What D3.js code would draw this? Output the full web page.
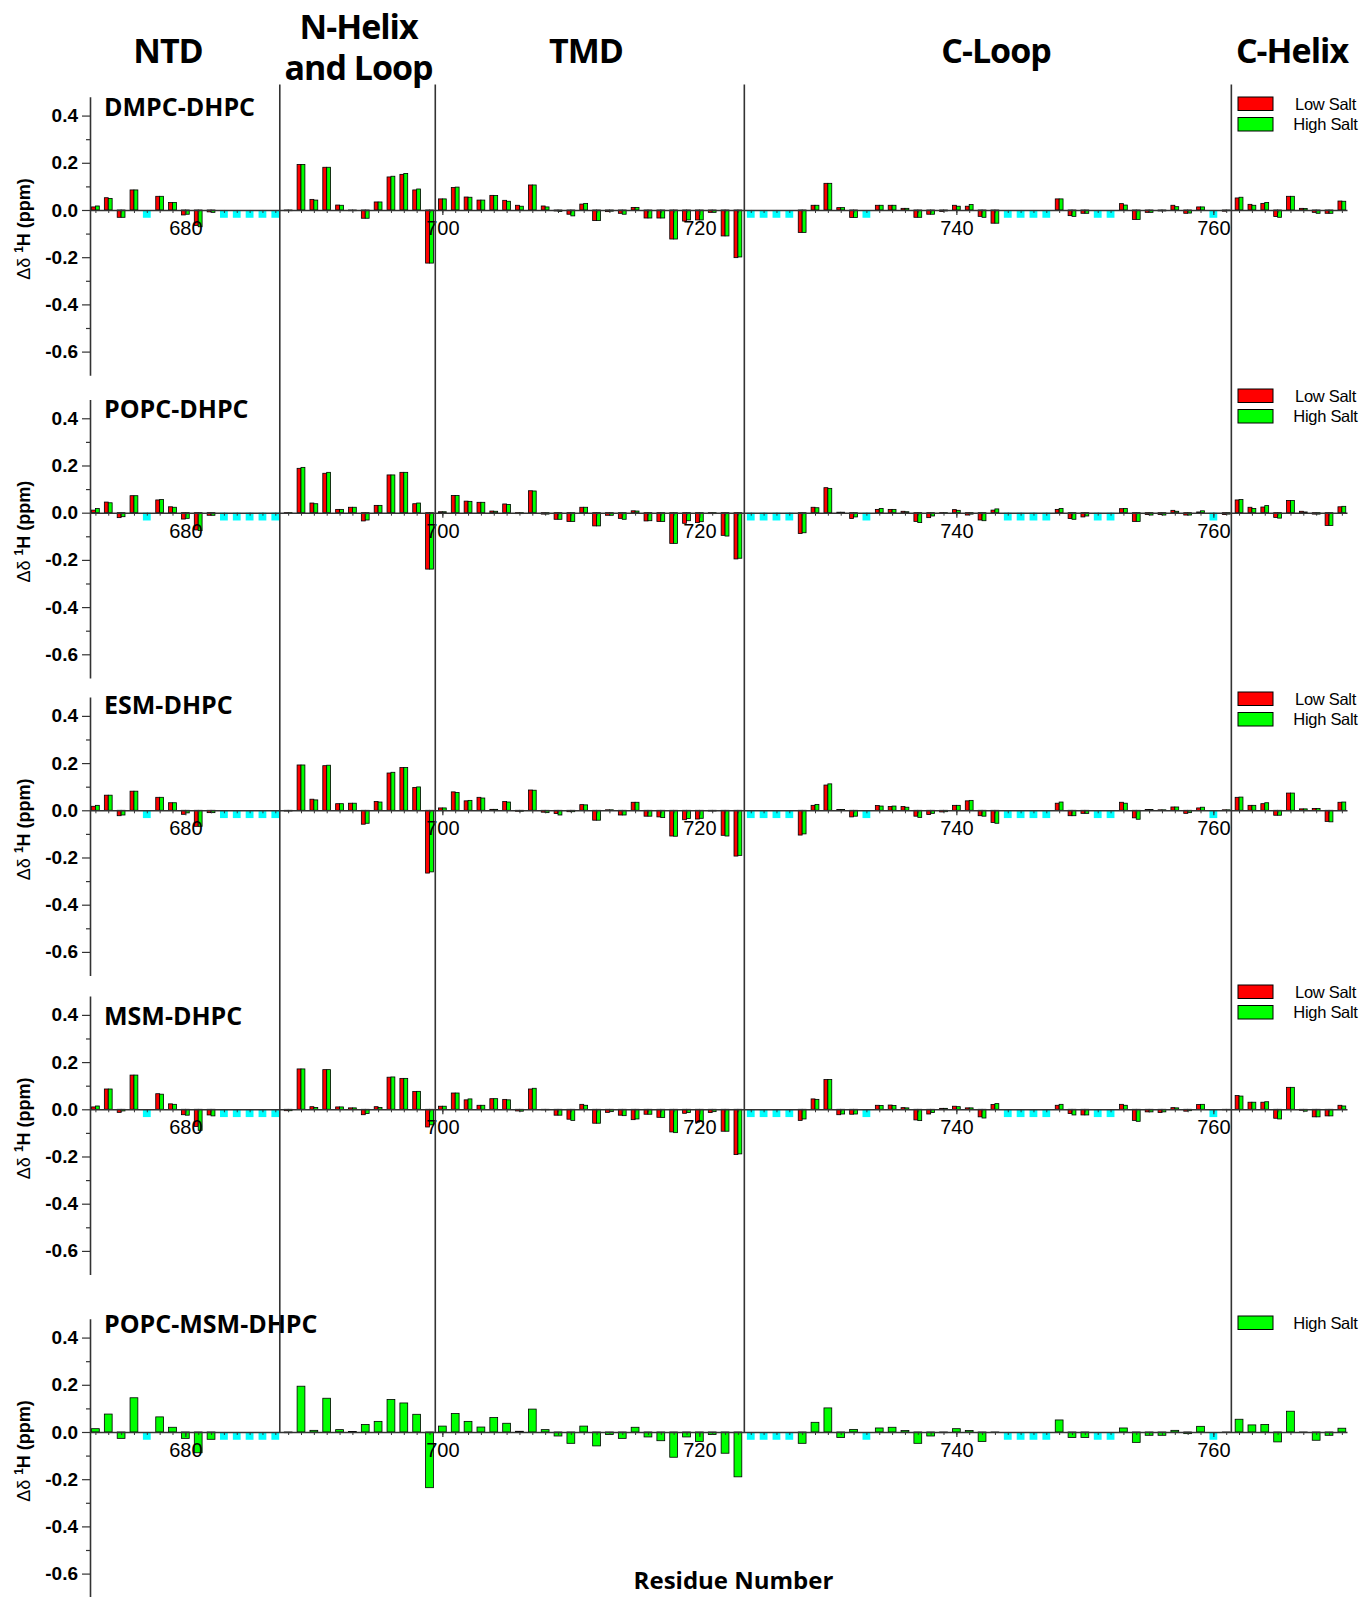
<!DOCTYPE html>
<html>
<head>
<meta charset="utf-8">
<script src="https://cdn.jsdelivr.net/npm/d3@7"></script>
<style>
body { margin: 0; background: #fff; }
svg { display: block; background: #fff; }
</style>
</head>
<body>
<svg></svg>
<script>
// residues 673..770, null = not assigned (drawn as cyan marks)
let residues = d3.range(673, 771);
let unassigned = [677, 683, 684, 685, 686, 687, 724, 725, 726, 727, 733, 744, 745, 746, 747, 751, 752, 760];
let xLabelTicks = [680, 700, 720, 740, 760];
let yMajorTicks = [-0.6, -0.4, -0.2, 0, 0.2, 0.4];
let yMinorTicks = [-0.5, -0.3, -0.1, 0.1, 0.3];
let regionNames = ['NTD', 'N-Helix|and Loop', 'TMD', 'C-Loop', 'C-Helix'];
let regionBounds = [687.35, 699.45, 723.5, 761.4];
let seriesNames = ['Low Salt', 'High Salt'];

let dmpcLow = [
  0.013, 0.052, -0.031, 0.085, null, 0.058, 0.032,
  -0.021, -0.066, -0.008, null, null, null, null, null, -0.003, 0.193,
  0.045, 0.181, 0.021, -0.003, -0.035, 0.034, 0.14, 0.151, 0.085, -0.225,
  0.047, 0.095, 0.055, 0.042, 0.062, 0.041, 0.02, 0.106, 0.017, -0.004,
  -0.018, 0.025, -0.045, -0.007, -0.014, 0.011, -0.034, -0.034, -0.123, -0.047,
  -0.042, -0.01, -0.11, -0.202, null, null, null, null, -0.095, 0.02,
  0.113, 0.01, -0.032, null, 0.02, 0.02, 0.007, -0.031, -0.018, -0.006,
  0.02, 0.016, -0.027, -0.056, null, null, null, null, 0.047, -0.024,
  -0.014, null, null, 0.027, -0.04, -0.01, -0.004, 0.02, -0.014, 0.013,
  null, -0.005, 0.051, 0.024, 0.028, -0.028, 0.058, 0.007, -0.01, -0.014,
  0.038
];
let dmpcHigh = [
  0.017, 0.049, -0.031, 0.085, null, 0.058, 0.032,
  -0.018, -0.071, -0.01, null, null, null, null, null, -0.003, 0.193,
  0.042, 0.181, 0.02, -0.003, -0.035, 0.034, 0.143, 0.155, 0.089, -0.225,
  0.047, 0.097, 0.054, 0.042, 0.061, 0.037, 0.016, 0.106, 0.013, -0.006,
  -0.025, 0.028, -0.045, -0.005, -0.018, 0.011, -0.034, -0.034, -0.123, -0.042,
  -0.042, -0.01, -0.11, -0.199, null, null, null, null, -0.095, 0.02,
  0.113, 0.01, -0.032, null, 0.02, 0.02, 0.007, -0.031, -0.018, -0.004,
  0.016, 0.023, -0.031, -0.056, null, null, null, null, 0.047, -0.027,
  -0.014, null, null, 0.021, -0.04, -0.01, -0.004, 0.014, -0.013, 0.013,
  null, -0.003, 0.054, 0.02, 0.032, -0.031, 0.058, 0.006, -0.014, -0.014,
  0.037
];
let popcLow = [
  0.011, 0.045, -0.021, 0.072, null, 0.054, 0.025,
  -0.027, -0.073, -0.011, null, null, null, null, null, -0.003, 0.188,
  0.041, 0.167, 0.014, 0.023, -0.035, 0.031, 0.16, 0.171, 0.038, -0.239,
  0.004, 0.073, 0.049, 0.044, 0.007, 0.037, -0.004, 0.093, -0.006, -0.028,
  -0.037, 0.023, -0.056, -0.011, -0.024, 0.008, -0.035, -0.037, -0.13, -0.045,
  -0.042, -0.004, -0.096, -0.196, null, null, null, null, -0.088, 0.023,
  0.106, 0.002, -0.025, null, 0.014, 0.014, 0.006, -0.037, -0.021, -0.003,
  0.013, -0.01, -0.031, 0.011, null, null, null, null, 0.014, -0.025,
  -0.018, null, null, 0.017, -0.037, -0.008, -0.008, 0.01, -0.01, 0.003,
  null, -0.008, 0.054, 0.023, 0.024, -0.02, 0.052, 0.006, -0.006, -0.054,
  0.025
];
let popcHigh = [
  0.018, 0.042, -0.017, 0.072, null, 0.056, 0.023,
  -0.024, -0.076, -0.011, null, null, null, null, null, -0.003, 0.192,
  0.038, 0.171, 0.014, 0.023, -0.031, 0.031, 0.16, 0.171, 0.041, -0.239,
  0.004, 0.073, 0.048, 0.044, 0.006, 0.035, -0.004, 0.092, -0.006, -0.028,
  -0.037, 0.023, -0.056, -0.011, -0.028, 0.007, -0.034, -0.037, -0.13, -0.034,
  -0.038, -0.004, -0.099, -0.193, null, null, null, null, -0.085, 0.021,
  0.103, 0.002, -0.018, null, 0.018, 0.014, 0.004, -0.042, -0.014, -0.003,
  0.01, -0.006, -0.034, 0.016, null, null, null, null, 0.018, -0.028,
  -0.014, null, null, 0.018, -0.037, -0.01, -0.01, 0.006, -0.01, 0.008,
  null, -0.006, 0.056, 0.018, 0.03, -0.023, 0.052, 0.003, -0.006, -0.054,
  0.027
];
let esmLow = [
  0.017, 0.064, -0.023, 0.081, null, 0.055, 0.032,
  -0.017, -0.068, -0.01, null, null, null, null, null, -0.003, 0.192,
  0.047, 0.189, 0.028, 0.03, -0.059, 0.037, 0.158, 0.181, 0.097, -0.266,
  0.01, 0.078, 0.04, 0.055, 0.004, 0.037, -0.004, 0.086, -0.008, -0.014,
  -0.006, 0.024, -0.042, 0.002, -0.02, 0.034, -0.025, -0.028, -0.109, -0.04,
  -0.037, -0.003, -0.106, -0.194, null, null, null, null, -0.105, 0.021,
  0.107, 0.003, -0.028, null, 0.02, 0.016, 0.016, -0.025, -0.018, -0.007,
  0.021, 0.04, -0.023, -0.052, null, null, null, null, 0.03, -0.023,
  -0.013, null, null, 0.034, -0.032, 0.003, 0.002, 0.014, -0.013, 0.01,
  null, 0.002, 0.055, 0.021, 0.028, -0.021, 0.073, 0.006, 0.008, -0.047,
  0.034
];
let esmHigh = [
  0.021, 0.064, -0.02, 0.081, null, 0.055, 0.032,
  -0.011, -0.068, -0.01, null, null, null, null, null, -0.003, 0.192,
  0.044, 0.191, 0.028, 0.03, -0.055, 0.035, 0.161, 0.181, 0.099, -0.261,
  0.01, 0.075, 0.042, 0.052, 0.004, 0.035, -0.004, 0.085, -0.01, -0.02,
  -0.006, 0.023, -0.042, 0.002, -0.02, 0.034, -0.025, -0.031, -0.11, -0.035,
  -0.034, -0.003, -0.109, -0.191, null, null, null, null, -0.1, 0.025,
  0.112, 0.003, -0.025, null, 0.018, 0.018, 0.013, -0.03, -0.013, -0.006,
  0.021, 0.042, -0.025, -0.055, null, null, null, null, 0.035, -0.023,
  -0.013, null, null, 0.03, -0.038, 0.003, 0.002, 0.014, -0.01, 0.013,
  null, 0.002, 0.056, 0.021, 0.032, -0.021, 0.073, 0.006, 0.008, -0.049,
  0.035
];
let msmLow = [
  0.01, 0.086, -0.013, 0.145, null, 0.066, 0.023,
  -0.023, -0.073, -0.024, null, null, null, null, null, -0.006, 0.171,
  0.011, 0.168, 0.01, 0.006, -0.023, 0.011, 0.136, 0.131, 0.075, -0.075,
  0.013, 0.069, 0.04, 0.017, 0.045, 0.042, -0.007, 0.086, -0.002, -0.025,
  -0.042, 0.021, -0.059, -0.013, -0.025, -0.044, -0.021, -0.034, -0.096, -0.017,
  -0.055, -0.014, -0.093, -0.192, null, null, null, null, -0.047, 0.044,
  0.126, -0.023, -0.021, null, 0.017, 0.018, 0.007, -0.045, -0.02, 0.004,
  0.013, 0.006, -0.032, 0.02, null, null, null, null, 0.017, -0.018,
  -0.024, null, null, 0.021, -0.047, -0.011, -0.014, 0.007, -0.008, 0.02,
  null, -0.002, 0.058, 0.03, 0.03, -0.038, 0.093, -0.004, -0.032, -0.028,
  0.017
];
let msmHigh = [
  0.014, 0.086, -0.007, 0.145, null, 0.064, 0.021,
  -0.025, -0.089, -0.028, null, null, null, null, null, -0.006, 0.171,
  0.008, 0.168, 0.01, 0.006, -0.018, 0.008, 0.137, 0.131, 0.076, -0.066,
  0.013, 0.069, 0.044, 0.017, 0.045, 0.04, -0.008, 0.089, -0.002, -0.025,
  -0.047, 0.017, -0.059, -0.01, -0.027, -0.041, -0.021, -0.035, -0.099, -0.014,
  -0.052, -0.01, -0.093, -0.189, null, null, null, null, -0.041, 0.042,
  0.126, -0.02, -0.02, null, 0.016, 0.016, 0.006, -0.048, -0.014, 0.004,
  0.011, 0.006, -0.037, 0.024, null, null, null, null, 0.021, -0.024,
  -0.024, null, null, 0.017, -0.051, -0.011, -0.011, 0.006, -0.006, 0.021,
  null, -0.002, 0.056, 0.03, 0.032, -0.041, 0.093, -0.008, -0.032, -0.028,
  0.014
];
let popcMsmHigh = [
  0.014, 0.076, -0.027, 0.145, null, 0.064, 0.02,
  -0.027, -0.088, -0.031, null, null, null, null, null, -0.003, 0.194,
  0.007, 0.143, 0.01, 0.002, 0.032, 0.045, 0.138, 0.123, 0.075, -0.236,
  0.025, 0.078, 0.045, 0.021, 0.061, 0.037, 0.003, 0.097, 0.01, -0.017,
  -0.048, 0.025, -0.059, -0.011, -0.027, 0.02, -0.021, -0.037, -0.107, -0.021,
  -0.04, -0.011, -0.09, -0.19, null, null, null, null, -0.048, 0.041,
  0.102, -0.023, 0.011, null, 0.017, 0.02, 0.006, -0.048, -0.017, -0.003,
  0.014, 0.006, -0.04, -0.002, null, null, null, null, 0.051, -0.023,
  -0.023, null, null, 0.017, -0.044, -0.014, -0.014, 0.007, -0.007, 0.024,
  null, -0.002, 0.054, 0.03, 0.032, -0.042, 0.088, -0.002, -0.035, -0.014,
  0.016
];

let panels = [
  {name: 'DMPC-DHPC', low: dmpcLow, high: dmpcHigh},
  {name: 'POPC-DHPC', low: popcLow, high: popcHigh},
  {name: 'ESM-DHPC', low: esmLow, high: esmHigh},
  {name: 'MSM-DHPC', low: msmLow, high: msmHigh},
  {name: 'POPC-MSM-DHPC', low: null, high: popcMsmHigh}
];

// layout
let w = 1364;
let h = 1597;
let zeroY = [210, 512.7, 810.3, 1109.3, 1432];
let nameY = [116, 418, 714, 1025, 1333];
let legendY = [97, 389, 692, 985, 1316];
let headerX = [168, 358.6, 586, 996, 1292];
let barW = 3.9;
let red = '#ff0000';
let green = '#00ff00';
let cyan = '#00ffff';
let axisColor = '#333';

let svg = d3.select('svg').attr('width', w).attr('height', h);

let x = d3.scaleLinear().domain([672.58, 770.4]).range([90, 1347]);

// region headers
regionNames.forEach((name, i) => {
  let lines = name.split('|');
  let t = svg.append('text')
    .attr('x', headerX[i])
    .attr('y', lines.length > 1 ? 38.5 : 63)
    .attr('text-anchor', 'middle')
    .style('font-family', '"Open Sans", sans-serif')
    .style('font-weight', 700)
    .style('font-size', '34px')
    .style('letter-spacing', '-1px')
    .attr('fill', '#000');
  lines.forEach((l, j) => {
    t.append('tspan').attr('x', headerX[i]).attr('dy', j == 0 ? 0 : 41).text(l);
  });
});

let drawPanel = (p, i) => {
  let z = zeroY[i];
  let y = d3.scaleLinear().domain([-0.70, 0.48]).range([z + 165.2, z - 113.3]);
  let g = svg.append('g').attr('class', 'panel');

  // unassigned residues
  g.selectAll('rect.na')
    .data(unassigned)
    .enter()
    .append('rect')
    .attr('class', 'na')
    .attr('x', (d) => x(d) - 3.9)
    .attr('y', y(0))
    .attr('width', 7.8)
    .attr('height', y(-0.033) - y(0))
    .attr('fill', cyan);

  let series = [];
  if (p.low) {
    series.push({vals: p.low, color: red, off: -barW, bw: barW});
    series.push({vals: p.high, color: green, off: 0, bw: barW});
  } else {
    series.push({vals: p.high, color: green, off: -barW, bw: barW * 2});
  }

  series.forEach((s) => {
    let pts = residues.map((r, k) => ({r: r, v: s.vals[k]})).filter((d) => d.v !== null);
    g.selectAll(null)
      .data(pts)
      .enter()
      .append('rect')
      .attr('x', (d) => x(d.r) + s.off)
      .attr('y', (d) => Math.min(y(d.v), y(0)))
      .attr('width', s.bw)
      .attr('height', (d) => Math.abs(y(d.v) - y(0)))
      .attr('fill', s.color)
      .attr('stroke', '#000')
      .attr('stroke-width', 0.8);
  });

  // x axis along zero line
  let xMinor = g.append('g')
    .attr('transform', 'translate(0,' + y(0) + ')')
    .call(d3.axisBottom(x).tickValues(residues).tickSize(3).tickSizeOuter(0).tickFormat(''));
  xMinor.select('.domain').attr('stroke', axisColor).attr('stroke-width', 1.6);
  xMinor.selectAll('.tick line').attr('stroke', axisColor).attr('stroke-width', 1);

  let xMajor = g.append('g')
    .attr('transform', 'translate(0,' + y(0) + ')')
    .call(d3.axisBottom(x).tickValues(xLabelTicks).tickSize(5).tickPadding(6).tickFormat(d3.format('d')));
  xMajor.select('.domain').remove();
  xMajor.selectAll('.tick line').attr('stroke', axisColor).attr('stroke-width', 1.2);
  xMajor.selectAll('text')
    .attr('fill', '#000')
    .style('font-family', '"Liberation Sans", Arial, sans-serif')
    .style('font-size', '20px');

  // y axis
  let yMin = g.append('g')
    .attr('transform', 'translate(' + x(672.58) + ',0)')
    .call(d3.axisLeft(y).tickValues(yMinorTicks).tickSize(4).tickSizeOuter(0).tickFormat(''));
  yMin.select('.domain').attr('stroke', axisColor).attr('stroke-width', 1.6);
  yMin.selectAll('.tick line').attr('stroke', axisColor).attr('stroke-width', 1.2);

  let yMaj = g.append('g')
    .attr('transform', 'translate(' + x(672.58) + ',0)')
    .call(d3.axisLeft(y).tickValues(yMajorTicks).tickSize(8).tickPadding(4).tickFormat((d) => d.toFixed(1)));
  yMaj.select('.domain').remove();
  yMaj.selectAll('.tick line').attr('stroke', axisColor).attr('stroke-width', 1.2);
  yMaj.selectAll('text')
    .attr('fill', '#000')
    .style('font-family', '"Liberation Sans", Arial, sans-serif')
    .style('font-weight', 700)
    .style('font-size', '19px');

  // y title
  let yt = g.append('text')
    .attr('transform', 'translate(30,' + (z + 19) + ') rotate(-90)')
    .attr('text-anchor', 'middle')
    .style('font-family', '"Liberation Sans", Arial, sans-serif')
    .style('font-size', '18px')
    .attr('fill', '#000');
  yt.append('tspan').text('\u0394\u03b4 ');
  yt.append('tspan').style('font-weight', 700).style('font-size', '12px').attr('dy', -7).text('1');
  yt.append('tspan').style('font-weight', 700).attr('dy', 7).text('H (ppm)');

  // panel name
  g.append('text')
    .attr('x', 104)
    .attr('y', nameY[i])
    .style('font-family', '"Open Sans", sans-serif')
    .style('font-weight', 700)
    .style('font-size', '25px')
    .attr('fill', '#000')
    .text(p.name);

  // legend
  let legItems = p.low ? [{n: seriesNames[0], c: red}, {n: seriesNames[1], c: green}] : [{n: seriesNames[1], c: green}];
  legItems.forEach((it, k) => {
    let ly = legendY[i] + k * 20.5;
    g.append('rect')
      .attr('x', 1238).attr('y', ly)
      .attr('width', 35).attr('height', 13.5)
      .attr('fill', it.c).attr('stroke', '#000').attr('stroke-width', 1);
    g.append('text')
      .attr('x', 1325.5).attr('y', ly + 12.5)
      .attr('text-anchor', 'middle')
      .style('font-family', '"Liberation Sans", Arial, sans-serif')
      .style('font-size', '16.5px')
      .style('letter-spacing', '-0.3px')
      .attr('fill', '#000')
      .text(it.n);
  });
};

panels.forEach(drawPanel);

// region dividers
svg.selectAll('line.divider')
  .data(regionBounds)
  .enter()
  .append('line')
  .attr('class', 'divider')
  .attr('x1', (d) => x(d))
  .attr('x2', (d) => x(d))
  .attr('y1', 84.5)
  .attr('y2', zeroY[4])
  .attr('stroke', axisColor)
  .attr('stroke-width', 1.6);

// x title
svg.append('text')
  .attr('x', 733.5)
  .attr('y', 1589)
  .attr('text-anchor', 'middle')
  .style('font-family', '"Open Sans", sans-serif')
  .style('font-weight', 700)
  .style('font-size', '24px')
  .attr('fill', '#000')
  .text('Residue Number');
</script>
</body>
</html>
